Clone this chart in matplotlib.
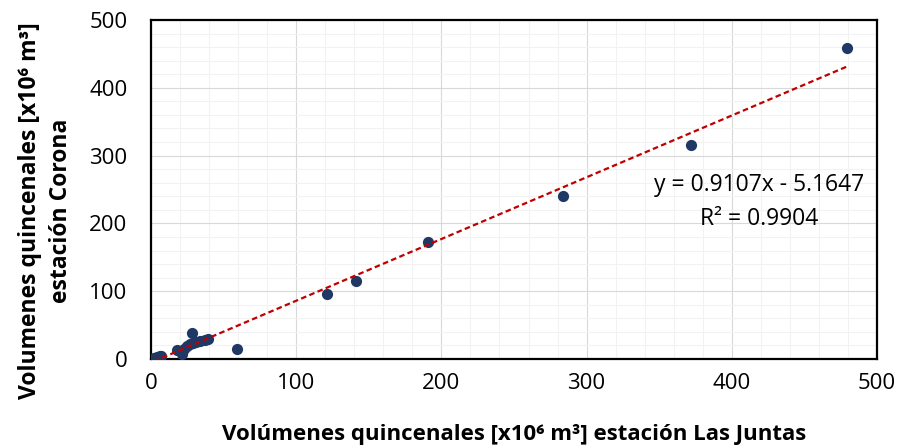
import matplotlib.pyplot as plt
import numpy as np
from matplotlib.ticker import MultipleLocator

plt.rcParams["font.family"] = ["Open Sans", "DejaVu Sans"]

# Las Juntas (x) vs Corona (y), hm3 per fortnight
las_juntas = [2, 3, 4, 6, 7, 18, 21, 23, 25, 27, 28, 29, 31, 34, 37, 39,
              59, 121, 141, 191, 284, 372, 479]
corona = [2, 1, 3, 4, 5, 13, 8, 15, 19, 22, 38, 23, 25, 27, 28, 29,
          15, 96, 115, 173, 240, 316, 459]

slope = 0.9107
intercept = -5.1647
r2 = 0.9904

x_ticks = [0, 100, 200, 300, 400, 500]
y_ticks = [0, 100, 200, 300, 400, 500]

fig = plt.figure(figsize=(9.01, 4.47), dpi=100)
ax = fig.add_axes([0.1676, 0.1969, 0.8058, 0.7584])

ax.set_xlim(0, 500)
ax.set_ylim(0, 500)
ax.set_xticks(x_ticks)
ax.set_yticks(y_ticks)
ax.xaxis.set_minor_locator(MultipleLocator(20))
ax.yaxis.set_minor_locator(MultipleLocator(20))
ax.grid(which="major", color="#d9d9d9", linewidth=0.8, zorder=0)
ax.grid(which="minor", color="#f2f2f2", linewidth=0.8, zorder=0)
ax.tick_params(which="both", length=0, labelsize=16, colors="#000000")
ax.tick_params(axis="x", pad=10)
ax.tick_params(axis="y", pad=17)
for s in ax.spines.values():
    s.set_linewidth(1.6)
    s.set_color("black")
ax.set_axisbelow(True)

ax.scatter(las_juntas, corona, s=65, color="#203864", zorder=3, linewidths=0)

xs = np.array([min(las_juntas), max(las_juntas)])
ax.plot(xs, slope * xs + intercept, color="#c00000", linewidth=1.6,
        linestyle=(0, (2.5, 1.5)), zorder=4)

ax.text(419, 231, f"y = {slope}x - {-intercept}\nR² = {r2}", ha="center",
        va="center", fontsize=16.5, linespacing=1.55, zorder=5)

ax.set_xlabel("Volúmenes quincenales [x10⁶ m³] estación Las Juntas",
              fontsize=16, fontweight="bold", labelpad=22)
ax.set_ylabel("Volumenes quincenales [x10⁶ m³]\nestación Corona",
              fontsize=16.5, fontweight="bold", linespacing=1.35)
ax.yaxis.set_label_coords(-0.108, 0.437)

fig.savefig("out.png", dpi=100)
